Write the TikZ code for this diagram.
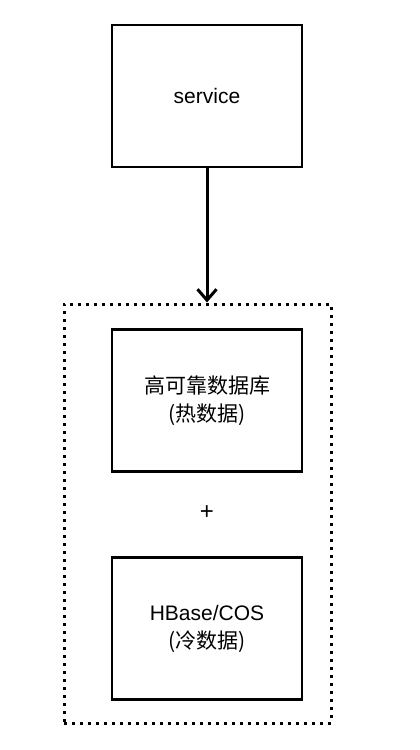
\documentclass[tikz,border=0pt]{standalone}
\usepackage{fontspec}
\setmainfont{Liberation Sans}
\newfontfamily\cjk{Noto Sans CJK SC}
\usetikzlibrary{arrows.meta}

\begin{document}
\begin{tikzpicture}[x=1pt, y=-1pt,
    block/.style = {draw, line width=2.8pt, minimum width=190pt, minimum height=142pt,
                    inner sep=0pt, align=center, font=\fontsize{21}{28}\selectfont},
    group/.style = {draw, line width=3pt, dash pattern=on 3pt off 5pt,
                    minimum width=267pt, minimum height=419pt, inner sep=0pt},
    link/.style  = {line width=3pt, -{Straight Barb[length=11pt, width=19pt, line width=3pt]}}]
  \useasboundingbox (0,0) rectangle (420,750);
  % upper part
  \node[block] (service) at (207,96) {service};
  % storage group
  \node[group] (store) at (197.5,513.5) {};
  \node[block] (hot) at (207,400.5) {{\cjk 高可靠数据库}\\{\cjk (热数据)}};
  \node[font=\fontsize{24}{24}\selectfont] (plus) at (207,513) {+};
  \node[block] (cold) at (207,628.5) {HBase/COS\\{\cjk (冷数据)}};

  \draw[link] (service.south) -- (service.south |- store.north);
\end{tikzpicture}
\end{document}
